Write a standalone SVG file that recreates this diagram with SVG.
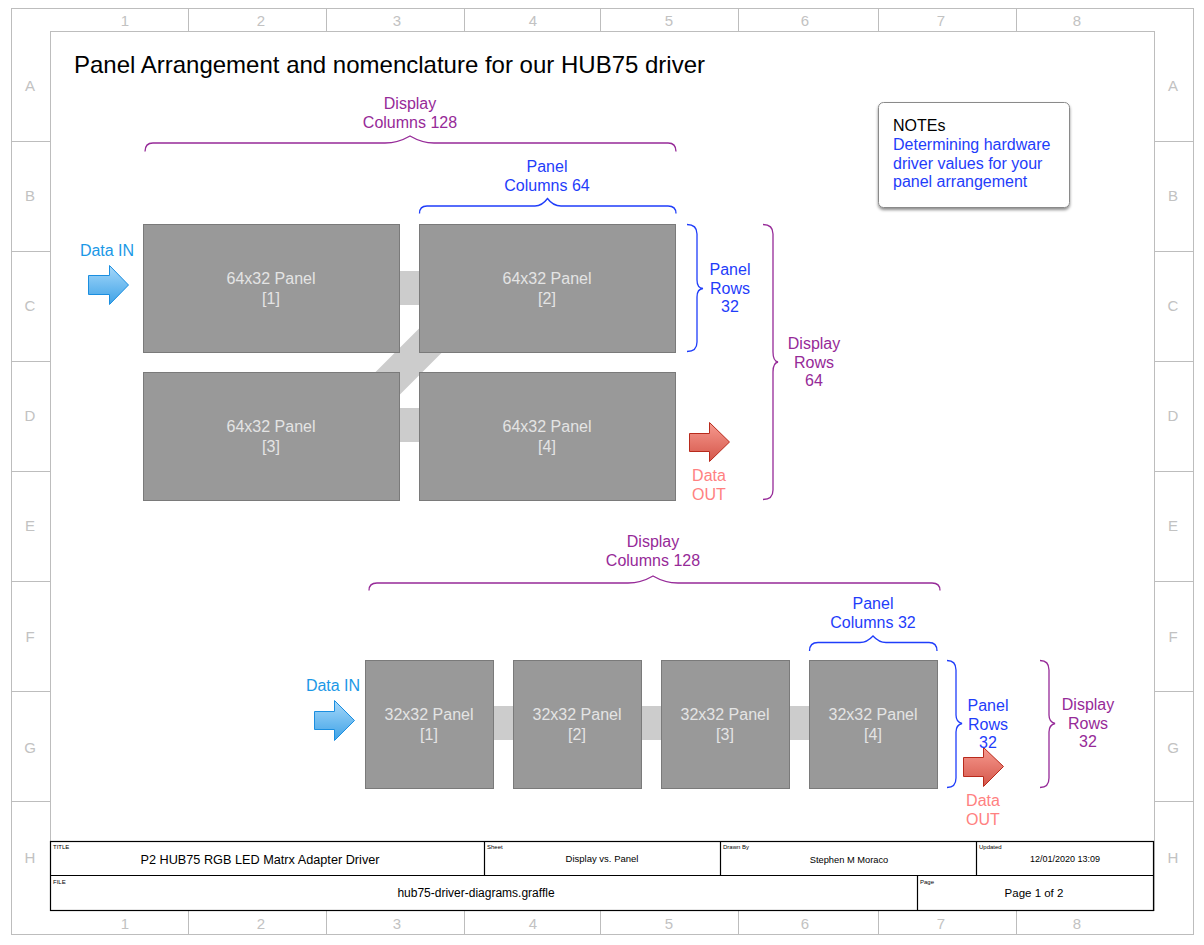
<svg xmlns="http://www.w3.org/2000/svg" width="1204" height="945" viewBox="0 0 1204 945">
<style>
text{font-family:"Liberation Sans",Arial,Helvetica,sans-serif}
.grid{fill:none;stroke:#bdbdbd;stroke-width:1}
.glab{font-size:15px;fill:#c2c2c2;text-anchor:middle}
.panel{fill:#999999;stroke:#7a7a7a;stroke-width:1}
.ptxt{font-size:16px;fill:#e4e4e4;text-anchor:middle}
.link{fill:#cccccc}
.blue{fill:#1f3dfa;font-size:16px;text-anchor:middle}
.purple{fill:#962a98;font-size:16px;text-anchor:middle}
.din{fill:#1b98e6;font-size:16px;text-anchor:middle}
.dout{fill:#ff8181;font-size:16px;text-anchor:middle}
.bb{fill:none;stroke:#1f3dfa;stroke-width:1.3}
.bp{fill:none;stroke:#962a98;stroke-width:1.3}
.tb{fill:none;stroke:#000;stroke-width:1.2}
.tsm{font-size:6px;fill:#000}
.tv{fill:#000;text-anchor:middle}
</style>
<defs>
<linearGradient id="gBlue" x1="0" y1="0" x2="0" y2="1">
<stop offset="0" stop-color="#a6d8fa"/><stop offset="1" stop-color="#3ea2e6"/>
</linearGradient>
<linearGradient id="gRed" x1="0" y1="0" x2="0" y2="1">
<stop offset="0" stop-color="#f79a8f"/><stop offset="1" stop-color="#d4564a"/>
</linearGradient>
<filter id="sh" x="-10%" y="-10%" width="130%" height="140%">
<feDropShadow dx="0" dy="2" stdDeviation="1.5" flood-color="#000" flood-opacity="0.45"/>
</filter>
</defs>
<rect width="1204" height="945" fill="#ffffff"/>

<g id="frame">
<rect class="grid" x="11.5" y="8.5" width="1182" height="926"/>
<rect class="grid" x="50.5" y="31.5" width="1104" height="879"/>
<path class="grid" d="M188.5,8.5V31.5M326.5,8.5V31.5M464.5,8.5V31.5M600.5,8.5V31.5M738.5,8.5V31.5M878.5,8.5V31.5M1016.5,8.5V31.5
M188.5,910.5V934.5M326.5,910.5V934.5M464.5,910.5V934.5M600.5,910.5V934.5M738.5,910.5V934.5M878.5,910.5V934.5M1016.5,910.5V934.5
M11.5,141.5H50.5M11.5,251.5H50.5M11.5,361.5H50.5M11.5,471.5H50.5M11.5,581.5H50.5M11.5,691.5H50.5M11.5,801.5H50.5
M1154.5,141.5H1193.5M1154.5,251.5H1193.5M1154.5,361.5H1193.5M1154.5,471.5H1193.5M1154.5,581.5H1193.5M1154.5,691.5H1193.5M1154.5,801.5H1193.5"/>
<g class="glab">
<text x="125" y="26">1</text><text x="261" y="26">2</text><text x="397" y="26">3</text><text x="533" y="26">4</text><text x="669" y="26">5</text><text x="805" y="26">6</text><text x="941" y="26">7</text><text x="1077" y="26">8</text>
<text x="125" y="929">1</text><text x="261" y="929">2</text><text x="397" y="929">3</text><text x="533" y="929">4</text><text x="669" y="929">5</text><text x="805" y="929">6</text><text x="941" y="929">7</text><text x="1077" y="929">8</text>
<text x="30" y="91">A</text><text x="30" y="201">B</text><text x="30" y="311">C</text><text x="30" y="421">D</text><text x="30" y="531">E</text><text x="30" y="642">F</text><text x="30" y="753">G</text><text x="30" y="863">H</text>
<text x="1173" y="91">A</text><text x="1173" y="201">B</text><text x="1173" y="311">C</text><text x="1173" y="421">D</text><text x="1173" y="531">E</text><text x="1173" y="642">F</text><text x="1173" y="753">G</text><text x="1173" y="863">H</text>
</g>
</g>

<text id="title" x="74" y="73" font-size="24" fill="#000">Panel Arrangement and nomenclature for our HUB75 driver</text>

<g id="connectors">
<rect class="link" x="398" y="271" width="22" height="34"/>
<rect class="link" x="398" y="408" width="22" height="34"/>
<line x1="360" y1="411" x2="460" y2="311" stroke="#cccccc" stroke-width="33"/>
<rect class="link" x="493" y="706" width="21" height="34"/>
<rect class="link" x="641" y="706" width="21" height="34"/>
<rect class="link" x="789" y="706" width="21" height="34"/>
</g>

<g id="panel-64x32-1"><rect class="panel" x="143.5" y="224.5" width="256" height="128"/><text class="ptxt" x="271" y="284">64x32 Panel</text><text class="ptxt" x="271" y="304">[1]</text></g>
<g id="panel-64x32-2"><rect class="panel" x="419.5" y="224.5" width="256" height="128"/><text class="ptxt" x="547" y="284">64x32 Panel</text><text class="ptxt" x="547" y="304">[2]</text></g>
<g id="panel-64x32-3"><rect class="panel" x="143.5" y="372.5" width="256" height="128"/><text class="ptxt" x="271" y="432">64x32 Panel</text><text class="ptxt" x="271" y="452">[3]</text></g>
<g id="panel-64x32-4"><rect class="panel" x="419.5" y="372.5" width="256" height="128"/><text class="ptxt" x="547" y="432">64x32 Panel</text><text class="ptxt" x="547" y="452">[4]</text></g>

<g id="panel-32x32-1"><rect class="panel" x="365.5" y="660.5" width="128" height="128"/><text class="ptxt" x="429" y="720">32x32 Panel</text><text class="ptxt" x="429" y="740">[1]</text></g>
<g id="panel-32x32-2"><rect class="panel" x="513.5" y="660.5" width="128" height="128"/><text class="ptxt" x="577" y="720">32x32 Panel</text><text class="ptxt" x="577" y="740">[2]</text></g>
<g id="panel-32x32-3"><rect class="panel" x="661.5" y="660.5" width="128" height="128"/><text class="ptxt" x="725" y="720">32x32 Panel</text><text class="ptxt" x="725" y="740">[3]</text></g>
<g id="panel-32x32-4"><rect class="panel" x="809.5" y="660.5" width="128" height="128"/><text class="ptxt" x="873" y="720">32x32 Panel</text><text class="ptxt" x="873" y="740">[4]</text></g>

<g id="data-in-top">
<text class="din" x="107" y="256">Data IN</text>
<path d="M88.5,275.5H109.5V265.5L128.5,285L109.5,304.5V294.5H88.5Z" fill="url(#gBlue)" stroke="#1a8ee0" stroke-width="1"/>
</g>
<g id="data-out-top">
<path d="M689.5,433.5H709.5V422.5L729.5,442L709.5,461.5V451.5H689.5Z" fill="url(#gRed)" stroke="#b82a1c" stroke-width="1"/>
<text class="dout" x="709" y="481">Data</text><text class="dout" x="709" y="500">OUT</text>
</g>
<g id="data-in-bottom">
<text class="din" x="333" y="691">Data IN</text>
<path d="M314.5,711.5H334.5V700.5L354.5,720.5L334.5,740.5V729.5H314.5Z" fill="url(#gBlue)" stroke="#1a8ee0" stroke-width="1"/>
</g>
<g id="data-out-bottom">
<path d="M963.5,757.5H983.5V747.5L1003.5,766.5L983.5,786.5V776.5H963.5Z" fill="url(#gRed)" stroke="#b82a1c" stroke-width="1"/>
<text class="dout" x="983" y="806">Data</text><text class="dout" x="983" y="825">OUT</text>
</g>

<g id="display-columns-top">
<path class="bp" d="M145,151.5Q145,143 153,143L385,143Q398,143 410,136Q422,143 434,143L668,143Q676,143 676,151.5"/>
<text class="purple" x="410" y="109">Display</text><text class="purple" x="410" y="128">Columns 128</text>
</g>
<g id="panel-columns-top">
<path class="bb" d="M419.5,213.5Q419.5,206 427,206L535,206Q542,206 547.5,198.5Q553,206 561,206L668,206Q676,206 676,213.5"/>
<text class="blue" x="547" y="172">Panel</text><text class="blue" x="547" y="191">Columns 64</text>
</g>
<g id="panel-rows-top">
<path class="bb" d="M687,224.5Q697,224.5 697,234L697,280Q697,288 703,288.5Q697,289 697,297L697,342Q697,351.5 687,351.5"/>
<text class="blue" x="730" y="275">Panel</text><text class="blue" x="730" y="294">Rows</text><text class="blue" x="730" y="312">32</text>
</g>
<g id="display-rows-top">
<path class="bp" d="M763,224.5Q773,224.5 773,234L773,352Q773,361 778,362Q773,363 773,372L773,490Q773,499.5 763,499.5"/>
<text class="purple" x="814" y="349">Display</text><text class="purple" x="814" y="368">Rows</text><text class="purple" x="814" y="386">64</text>
</g>

<g id="display-columns-bottom">
<path class="bp" d="M369,590.5Q369,583 377,583L628,583Q641,583 653,576Q665,583 678,583L932,583Q940,583 940,590.5"/>
<text class="purple" x="653" y="547">Display</text><text class="purple" x="653" y="566">Columns 128</text>
</g>
<g id="panel-columns-bottom">
<path class="bb" d="M809.5,651Q809.5,642.5 818,642.5L860,642.5Q867,642.5 873,636Q879,642.5 886,642.5L929,642.5Q937,642.5 937,651"/>
<text class="blue" x="873" y="609">Panel</text><text class="blue" x="873" y="628">Columns 32</text>
</g>
<g id="panel-rows-bottom">
<path class="bb" d="M947,660.5Q956,660.5 956,670L956,715Q956,722 962,723.5Q956,725 956,732L956,778Q956,787.5 947,787.5"/>
<text class="blue" x="988" y="711">Panel</text><text class="blue" x="988" y="730">Rows</text><text class="blue" x="988" y="748">32</text>
</g>
<g id="display-rows-bottom">
<path class="bp" d="M1040,660.5Q1049,660.5 1049,670L1049,715Q1049,722 1055,723.5Q1049,725 1049,732L1049,778Q1049,787.5 1040,787.5"/>
<text class="purple" x="1088" y="710">Display</text><text class="purple" x="1088" y="729">Rows</text><text class="purple" x="1088" y="747">32</text>
</g>

<g id="notes">
<rect x="878.5" y="102.5" width="191" height="105" rx="5" fill="#ffffff" stroke="#8a8a8a" stroke-width="1" filter="url(#sh)"/>
<text x="893" y="131" font-size="16" fill="#000">NOTEs</text>
<text x="893" y="150" font-size="16" fill="#1f3dfa">Determining hardware</text>
<text x="893" y="168.5" font-size="16" fill="#1f3dfa">driver values for your</text>
<text x="893" y="187" font-size="16" fill="#1f3dfa">panel arrangement</text>
</g>

<g id="title-block">
<rect x="50.5" y="841.5" width="1103" height="69" fill="#ffffff" stroke="#000" stroke-width="1.2"/>
<path class="tb" d="M50.5,875.5H1153.5M484.5,841.5V875.5M720.5,841.5V875.5M976.5,841.5V875.5M917.5,875.5V910.5"/>
<text class="tsm" x="53" y="849">TITLE</text>
<text class="tsm" x="487" y="849">Sheet</text>
<text class="tsm" x="723" y="849">Drawn By</text>
<text class="tsm" x="979" y="849">Updated</text>
<text class="tsm" x="53" y="884">FILE</text>
<text class="tsm" x="920" y="884">Page</text>
<text class="tv" x="260" y="864" font-size="12.7">P2 HUB75 RGB LED Matrx Adapter Driver</text>
<text class="tv" x="602" y="862" font-size="9.5">Display vs. Panel</text>
<text class="tv" x="849" y="863" font-size="9.3">Stephen M Moraco</text>
<text class="tv" x="1065" y="862" font-size="9">12/01/2020 13:09</text>
<text class="tv" x="476" y="897" font-size="12">hub75-driver-diagrams.graffle</text>
<text class="tv" x="1034" y="897" font-size="11.5">Page 1 of 2</text>
</g>
</svg>
